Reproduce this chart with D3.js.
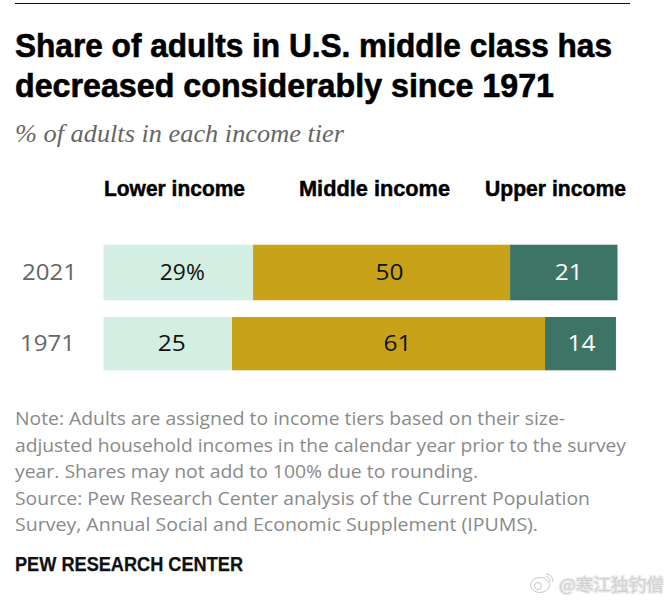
<!DOCTYPE html>
<html><head><meta charset="utf-8">
<script src="https://cdn.jsdelivr.net/npm/d3@7"></script>
<style>html,body{margin:0;padding:0;background:#fff}svg{display:block}</style>
</head><body>
<script>
const years = ["2021", "1971"];
const tiers = ["Lower income", "Middle income", "Upper income"];
const lowerShare = [29.1, 25];
const middleShare = [50, 60.9];
const upperShare = [20.9, 13.8];
const suffixes = ["%", ""];
const tierColors = ["#d3eee3", "#c8a31a", "#3c7565"];
const labelColors = ["#111", "#111", "#fff"];
const titleLines = ["Share of adults in U.S. middle class has", "decreased considerably since 1971"];
const subtitle = "% of adults in each income tier";
const noteLines = [
  "Note: Adults are assigned to income tiers based on their size-",
  "adjusted household incomes in the calendar year prior to the survey",
  "year. Shares may not add to 100% due to rounding.",
  "Source: Pew Research Center analysis of the Current Population",
  "Survey, Annual Social and Economic Supplement (IPUMS)."
];
const noteWidths = [550, 611, 463, 575, 523];
const credit = "PEW RESEARCH CENTER";
const watermark = "@寒江独钓僧";

const series = [lowerShare, middleShare, upperShare];
const rows = years.map((year, i) => {
  const row = { year, suffix: suffixes[i] };
  tiers.forEach((t, j) => row[t] = series[j][i]);
  return row;
});
const stacked = d3.stack().keys(tiers)(rows);

const svg = d3.select("body").append("svg").attr("width", 671).attr("height", 601);
const sans = "'Liberation Sans', Arial, sans-serif";
const book = "'Open Sans', 'Liberation Sans', sans-serif";

svg.append("line").attr("x1", 15).attr("x2", 630).attr("y1", 3.5).attr("y2", 3.5)
  .attr("stroke", "#111").attr("stroke-width", 1);

const fit = (sel, w) => sel.attr("textLength", w).attr("lengthAdjust", "spacingAndGlyphs");

svg.selectAll("text.title").data(titleLines).join("text").attr("class", "title")
  .attr("x", 15).attr("y", (d, i) => 57 + i * 40)
  .attr("font-family", sans).attr("font-weight", 700).attr("font-size", 33.5)
  .attr("stroke", "#000").attr("stroke-width", 0.6)
  .attr("fill", "#000").text(d => d)
  .each(function (d, i) { fit(d3.select(this), [597, 539][i]); });

svg.append("text").attr("x", 15).attr("y", 142)
  .attr("font-family", "'Liberation Serif', serif").attr("font-style", "italic")
  .attr("font-size", 25).attr("fill", "#666").text(subtitle).call(fit, 329);

const x = d3.scaleLinear().domain([0, 100]).range([103.5, 617.5]);
const rowTop = d3.scaleOrdinal().domain(years).range([244.7, 317]);
const rowBottom = d3.scaleOrdinal().domain(years).range([300.3, 370.3]);

const headerX = [104, 299, 485];
const headerW = [141, 151, 141];
svg.selectAll("text.head").data(tiers).join("text").attr("class", "head")
  .attr("x", (d, i) => headerX[i]).attr("y", 196)
  .attr("font-family", sans).attr("font-weight", 700).attr("font-size", 22)
  .attr("stroke", "#000").attr("stroke-width", 0.45).attr("fill", "#000").text(d => d)
  .each(function (d, i) { fit(d3.select(this), headerW[i]); });

const groups = svg.selectAll("g.tier").data(stacked).join("g").attr("class", "tier");
groups.each(function (s, j) {
  d3.select(this).selectAll("rect").data(s).join("rect")
    .attr("x", d => x(d[0])).attr("width", d => x(d[1]) - x(d[0]))
    .attr("y", d => rowTop(d.data.year)).attr("height", d => rowBottom(d.data.year) - rowTop(d.data.year))
    .attr("fill", tierColors[j]);
});

// label layout: horizontal nudge from segment centre, per row then tier
const labelNudge = [[4, 8, 5], [4, 9, 1]];
groups.each(function (s, j) {
  d3.select(this).selectAll("text").data(s).join("text")
    .attr("x", (d, i) => (x(d[0]) + x(d[1])) / 2 + labelNudge[i][j])
    .attr("y", d => (rowTop(d.data.year) + rowBottom(d.data.year)) / 2 + 7.4)
    .attr("text-anchor", "middle").attr("font-family", book).attr("font-size", 22)
    .attr("fill", labelColors[j])
    .text(d => Math.round(d[1] - d[0]) + (j === 0 ? d.data.suffix : ""))
    .each(function (d) { fit(d3.select(this), this.textContent.length === 3 ? 45 : 28); });
});

const yearCenter = [49.5, 47.5];
svg.selectAll("text.year").data(years).join("text").attr("class", "year")
  .attr("x", (d, i) => yearCenter[i]).attr("y", d => (rowTop(d) + rowBottom(d)) / 2 + 7.4)
  .attr("text-anchor", "middle").attr("font-family", book).attr("font-size", 22)
  .attr("fill", "#666").text(d => d).call(fit, 55);

svg.selectAll("text.note").data(noteLines).join("text").attr("class", "note")
  .attr("x", 15).attr("y", (d, i) => 425 + i * 26.5)
  .attr("font-family", book).attr("font-size", 19).attr("fill", "#8a8a8a").text(d => d)
  .each(function (d, i) { fit(d3.select(this), noteWidths[i]); });

svg.append("text").attr("x", 15).attr("y", 571)
  .attr("font-family", sans).attr("font-weight", 700).attr("font-size", 20)
  .attr("stroke", "#111").attr("stroke-width", 0.25)
  .attr("fill", "#111").text(credit).call(fit, 228);

const wm = svg.append("g").attr("fill", "none").attr("stroke", "#c9c9c9").attr("stroke-width", 1);
wm.append("ellipse").attr("cx", 540).attr("cy", 585).attr("rx", 9.5).attr("ry", 7.5);
wm.append("circle").attr("cx", 538).attr("cy", 586).attr("r", 3.5);
wm.append("path").attr("d", "M546 574a7 7 0 0 1 7 8M546 577a4 4 0 0 1 4 5");
svg.append("text").attr("x", 559).attr("y", 591)
  .attr("font-family", "'Noto Sans CJK SC', sans-serif").attr("font-size", 17)
  .attr("fill", "#d0d0d0").attr("stroke", "#ececec").attr("stroke-width", 2.5)
  .attr("paint-order", "stroke").text(watermark).call(fit, 105);
</script>
</body></html>
